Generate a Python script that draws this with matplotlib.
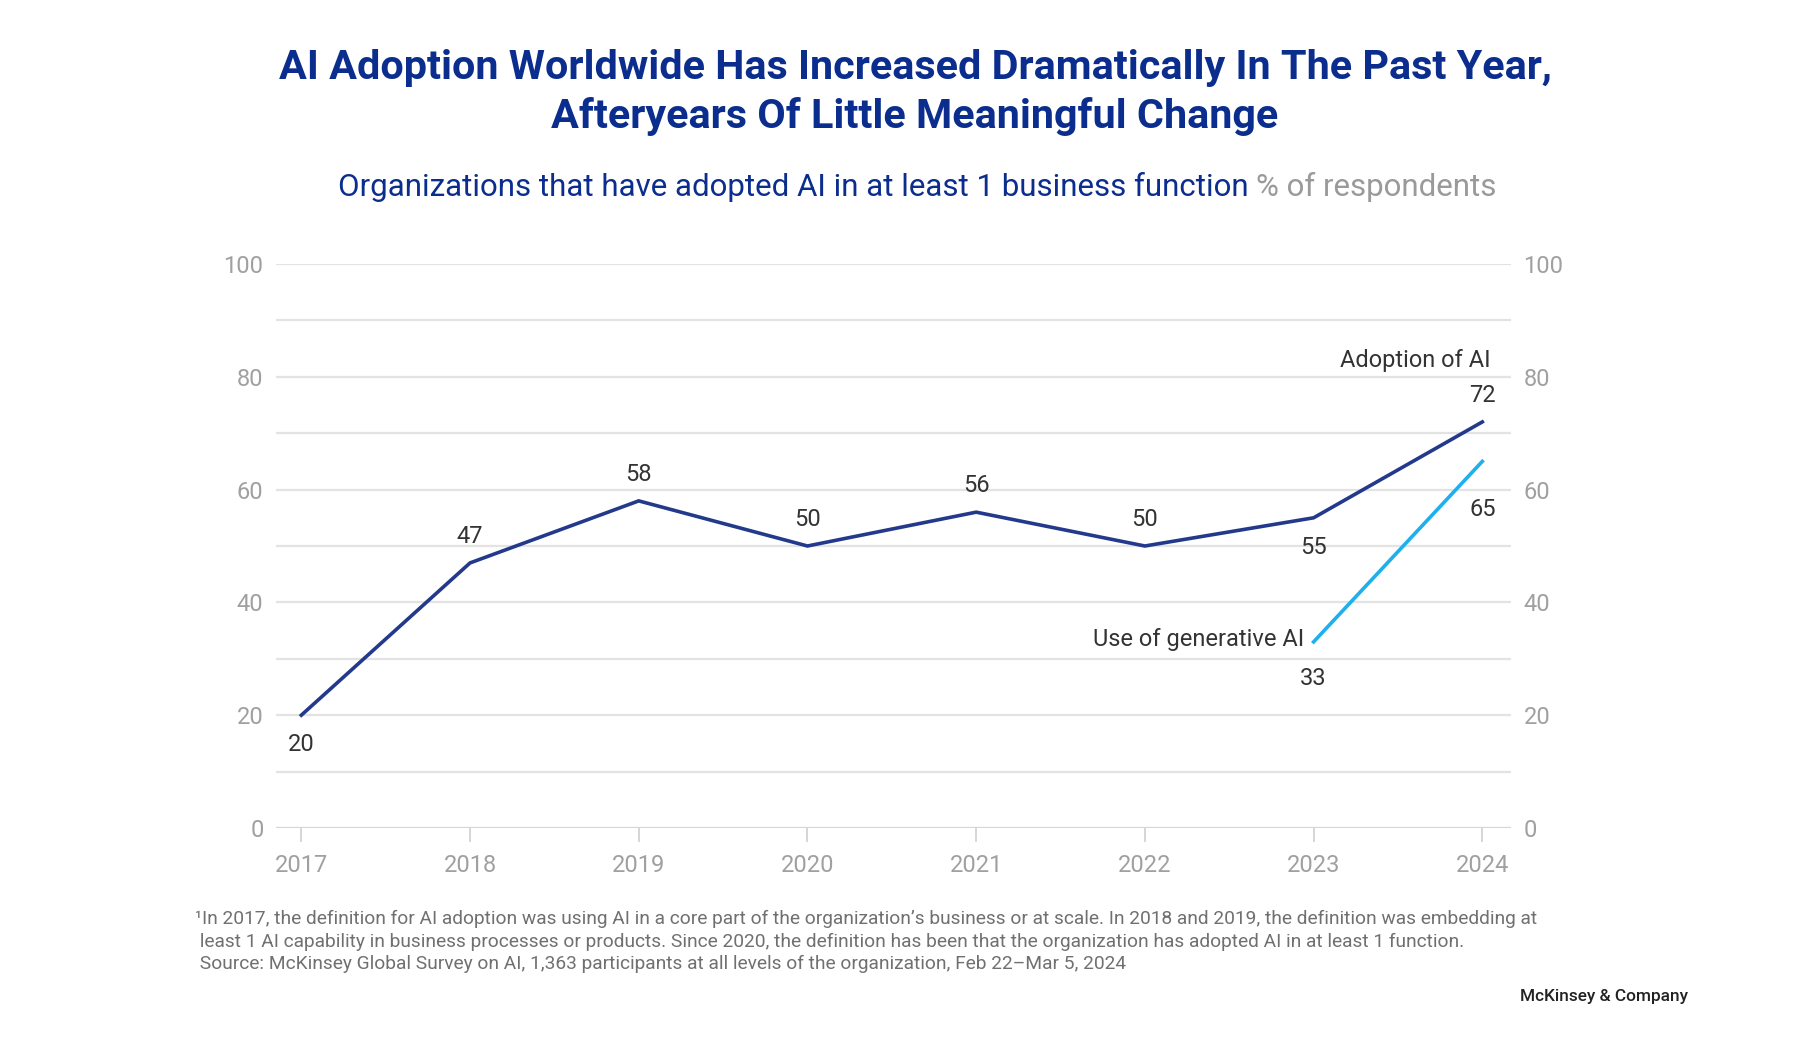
import matplotlib
matplotlib.use("Agg")
import matplotlib.pyplot as plt

years = [2017, 2018, 2019, 2020, 2021, 2022, 2023, 2024]
adoption = [20, 47, 58, 50, 56, 50, 55, 72]
gen_years = [2023, 2024]
gen_ai = [33, 65]
yticks = [0, 20, 40, 60, 80, 100]

# label placement: +1 above, -1 below
adopt_side = [-1, 1, 1, 1, 1, 1, -1, 1]

NAVY = "#233a8c"
LIGHT = "#1eb0ee"
TITLE_BLUE = "#0b2e8e"
GRID = "#e3e3e3"
TICKC = "#a0a0a0"
LABELC = "#333333"

plt.rcParams["font.family"] = ["Roboto", "DejaVu Sans"]

fig = plt.figure(figsize=(18, 10.41), dpi=100)
ax = fig.add_axes([276 / 1800, 1 - 828 / 1041, (1511 - 276) / 1800, (828 - 264) / 1041])

ax.set_xlim(2016.85, 2024.17)
ax.set_ylim(0, 100)
for s in ax.spines.values():
    s.set_visible(False)

for y in range(10, 101, 10):
    ax.axhline(y, color=GRID, lw=1.6, zorder=0)
ax.axhline(0, color="#d6d6d6", lw=2.4, zorder=1)

ax.plot(years, adoption, color=NAVY, lw=2.6, zorder=3, clip_on=False, solid_joinstyle="miter")
ax.plot(gen_years, gen_ai, color=LIGHT, lw=2.6, zorder=3, clip_on=False)

FS = 17
ax.set_yticks(yticks)
ax.set_yticklabels([str(v) for v in yticks])
ax.tick_params(axis="y", which="both", length=0, labelsize=FS, labelcolor=TICKC,
               left=True, right=True, labelleft=True, labelright=True, pad=9)
ax.set_xticks(years)
ax.set_xticklabels([str(y) for y in years])
ax.tick_params(axis="x", length=10, width=1.2, color="#cfcfcf", direction="out",
               labelsize=FS, labelcolor=TICKC, pad=9)

for x, y, s in zip(years, adoption, adopt_side):
    ax.annotate(str(y), (x, y), xytext=(0, 11 if s > 0 else -13), textcoords="offset points",
                ha="center", va="bottom" if s > 0 else "top", fontsize=FS, color=LABELC)
for x, y in zip(gen_years, gen_ai):
    off = -18 if x == 2023 else -26
    ax.annotate(str(y), (x, y), xytext=(0, off), textcoords="offset points",
                ha="center", va="top", fontsize=FS, color=LABELC)

ax.annotate("Adoption of AI", (years[-1], adoption[-1]), xytext=(6, 36), textcoords="offset points",
            ha="right", va="bottom", fontsize=FS, color=LABELC)
ax.annotate("Use of generative AI", (gen_years[0], gen_ai[0]), xytext=(-7, 2), textcoords="offset points",
            ha="right", va="center", fontsize=FS, color=LABELC)

# Title
fig.text(915 / 1800, 1 - 68 / 1041, "AI Adoption Worldwide Has Increased Dramatically In The Past Year,",
         ha="center", va="center", fontsize=29.8, fontweight="bold", color=TITLE_BLUE)
fig.text(915 / 1800, 1 - 117 / 1041, "Afteryears Of Little Meaningful Change",
         ha="center", va="center", fontsize=29.8, fontweight="bold", color=TITLE_BLUE)

# Subtitle in two colours
renderer = fig.canvas.get_renderer()
part1 = "Organizations that have adopted AI in at least 1 business function "
part2 = "% of respondents"
t1 = fig.text(0, 1 - 187 / 1041, part1, ha="left", va="center", fontsize=22.5, color=TITLE_BLUE)
t2 = fig.text(0, 1 - 187 / 1041, part2, ha="left", va="center", fontsize=22.5, color="#9a9a9a")
w1 = t1.get_window_extent(renderer).width
w2 = t2.get_window_extent(renderer).width
x0 = 917 - (w1 + w2) / 2
t1.set_x(x0 / 1800)
t2.set_x((x0 + w1) / 1800)

# Footnote
foot = [
    "\u00b9In 2017, the definition for AI adoption was using AI in a core part of the organization\u2019s business or at scale. In 2018 and 2019, the definition was embedding at",
    " least 1 AI capability in business processes or products. Since 2020, the definition has been that the organization has adopted AI in at least 1 function.",
    " Source: McKinsey Global Survey on AI, 1,363 participants at all levels of the organization, Feb 22\u2013Mar 5, 2024",
]
for i, line in enumerate(foot):
    fig.text(195 / 1800, 1 - (919 + 22.5 * i) / 1041, line, ha="left", va="center",
             fontsize=13.8, color="#707070")

fig.text(1688 / 1800, 1 - 996 / 1041, "McKinsey & Company", ha="right", va="center",
         fontsize=12.4, fontweight="medium", color="#222222")

fig.savefig("out.png", dpi=100, facecolor="white")
